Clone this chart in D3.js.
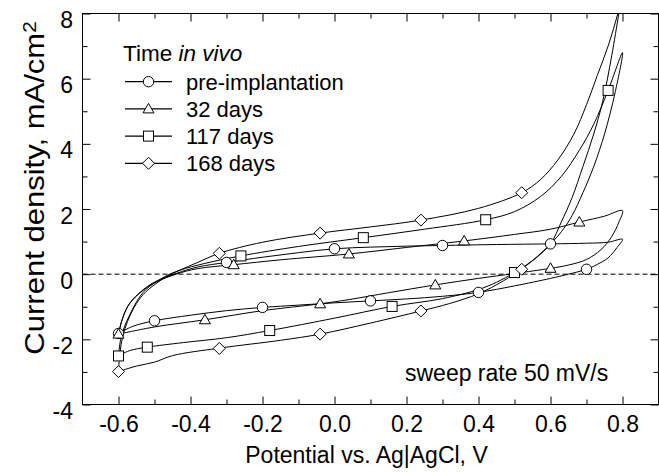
<!DOCTYPE html>
<html>
<head>
<meta charset="utf-8">
<script src="https://cdn.jsdelivr.net/npm/d3@7"></script>
<style>
  body { margin: 0; background: #fff; }
  svg { display: block; font-family: Arial, "Liberation Sans", sans-serif; }
</style>
</head>
<body>
<svg width="659" height="472"></svg>
<script>
// Cyclic voltammograms, [potential V, current density mA/cm2]
// upper = anodic sweep (-0.6 -> 0.8), lower = return sweep (0.8 -> -0.6)
const preUpper = [[-0.6,-1.82],[-0.59,-1.4],[-0.575,-1.0],[-0.553,-0.69],[-0.506,-0.28],[-0.44,0.02],[-0.38,0.22],[-0.3,0.36],[-0.2,0.52],[-0.1,0.66],[0.0,0.78],[0.1,0.83],[0.2,0.86],[0.3,0.88],[0.45,0.91],[0.6,0.93],[0.7,0.95],[0.76,0.98],[0.8,1.07]];
const preLower = [[0.8,1.07],[0.785,0.82],[0.76,0.5],[0.73,0.3],[0.7,0.15],[0.65,0.0],[0.6,-0.13],[0.5,-0.36],[0.4,-0.56],[0.3,-0.68],[0.2,-0.76],[0.1,-0.82],[0.0,-0.88],[-0.1,-0.95],[-0.2,-1.02],[-0.3,-1.12],[-0.4,-1.26],[-0.5,-1.43],[-0.56,-1.6],[-0.6,-1.82]];
const preMarks = [[-0.6,-1.82],[-0.5,-1.43],[-0.3,0.36],[-0.2,-1.02],[0.0,0.78],[0.1,-0.82],[0.3,0.88],[0.4,-0.56],[0.6,0.93],[0.7,0.15]];

const d32Upper = [[-0.6,-1.84],[-0.59,-1.4],[-0.575,-1.0],[-0.553,-0.7],[-0.506,-0.3],[-0.44,0.0],[-0.38,0.17],[-0.28,0.29],[-0.15,0.44],[0.04,0.62],[0.2,0.82],[0.36,1.02],[0.5,1.22],[0.6,1.38],[0.68,1.6],[0.75,1.78],[0.8,1.95]];
const d32Lower = [[0.8,1.95],[0.79,1.6],[0.77,1.15],[0.74,0.75],[0.7,0.45],[0.65,0.28],[0.6,0.18],[0.5,0.02],[0.4,-0.13],[0.28,-0.33],[0.15,-0.57],[0.04,-0.78],[-0.04,-0.91],[-0.2,-1.12],[-0.36,-1.4],[-0.5,-1.62],[-0.6,-1.84]];
const d32Marks = [[-0.6,-1.84],[-0.36,-1.4],[-0.28,0.29],[-0.04,-0.91],[0.04,0.62],[0.28,-0.33],[0.36,1.02],[0.6,0.18],[0.68,1.6]];

const d117Upper = [[-0.6,-2.51],[-0.594,-2.0],[-0.583,-1.6],[-0.571,-1.3],[-0.55,-0.85],[-0.525,-0.48],[-0.47,-0.07],[-0.43,0.12],[-0.36,0.33],[-0.26,0.56],[-0.1,0.85],[0.08,1.12],[0.25,1.38],[0.42,1.67],[0.5,1.92],[0.572,2.38],[0.63,3.0],[0.68,3.8],[0.72,4.6],[0.76,5.64],[0.8,6.8]];
const d117Lower = [[0.8,6.8],[0.78,5.6],[0.75,4.3],[0.72,3.3],[0.69,2.5],[0.66,1.8],[0.63,1.3],[0.6,0.93],[0.55,0.42],[0.5,0.05],[0.45,-0.25],[0.4,-0.47],[0.3,-0.75],[0.16,-0.99],[0.0,-1.35],[-0.18,-1.73],[-0.3,-1.95],[-0.42,-2.1],[-0.52,-2.24],[-0.57,-2.35],[-0.6,-2.51]];
const d117Marks = [[-0.6,-2.51],[-0.52,-2.24],[-0.26,0.56],[-0.18,-1.73],[0.08,1.12],[0.16,-0.99],[0.42,1.67],[0.5,0.05],[0.76,5.64]];

const d168Upper = [[-0.6,-2.99],[-0.596,-2.4],[-0.588,-1.9],[-0.575,-1.45],[-0.55,-0.9],[-0.525,-0.55],[-0.47,-0.1],[-0.43,0.12],[-0.38,0.36],[-0.32,0.64],[-0.2,0.98],[-0.04,1.26],[0.1,1.45],[0.24,1.66],[0.4,2.02],[0.52,2.5],[0.572,2.9],[0.62,3.5],[0.665,4.3],[0.7,5.2],[0.73,6.1],[0.76,7.0],[0.787,8.0],[0.8,8.6]];
const d168Lower = [[0.8,8.6],[0.79,8.0],[0.77,6.7],[0.745,5.3],[0.72,4.3],[0.69,3.3],[0.66,2.35],[0.63,1.6],[0.6,0.93],[0.56,0.5],[0.518,0.15],[0.47,-0.2],[0.4,-0.6],[0.32,-0.9],[0.24,-1.13],[0.1,-1.5],[-0.04,-1.84],[-0.15,-2.03],[-0.32,-2.27],[-0.45,-2.5],[-0.5,-2.7],[-0.55,-2.82],[-0.6,-2.99]];
const d168Marks = [[-0.6,-2.99],[-0.32,-2.28],[-0.32,0.64],[-0.04,-1.84],[-0.04,1.26],[0.24,-1.13],[0.24,1.66],[0.52,0.15],[0.52,2.5]];

const seriesNames = ["pre-implantation", "32 days", "117 days", "168 days"];
const seriesSymbols = ["circle", "triangle", "square", "diamond"];

const xMajor = [-0.6, -0.4, -0.2, 0.0, 0.2, 0.4, 0.6, 0.8];
const xMinor = [-0.5, -0.3, -0.1, 0.1, 0.3, 0.5, 0.7];
const yMajor = [-4, -2, 0, 2, 4, 6, 8];
const yMinor = [-3, -1, 1, 3, 5, 7];

const series = [
  { upper: preUpper, lower: preLower, marks: preMarks },
  { upper: d32Upper, lower: d32Lower, marks: d32Marks },
  { upper: d117Upper, lower: d117Lower, marks: d117Marks },
  { upper: d168Upper, lower: d168Lower, marks: d168Marks }
];

const svg = d3.select("svg");
const pLeft = 82.5, pRight = 658.5, pTop = 13.5, pBottom = 404.5;

const x = d3.scaleLinear().domain([-0.7, 0.9]).range([pLeft, pRight]);
const y = d3.scaleLinear().domain([-4, 8]).range([pBottom, pTop]);

svg.append("defs").append("clipPath").attr("id", "plotclip")
  .append("rect")
  .attr("x", pLeft).attr("y", pTop)
  .attr("width", pRight - pLeft).attr("height", pBottom - pTop);

// zero line
svg.append("line")
  .attr("x1", pLeft).attr("x2", pRight)
  .attr("y1", y(0)).attr("y2", y(0))
  .attr("stroke", "#000").attr("stroke-width", 1)
  .attr("stroke-dasharray", "5,3");

// symbol drawing
function drawSymbol(g, kind, cx, cy) {
  const s = g.append("g").attr("transform", `translate(${cx},${cy})`);
  if (kind === "circle") {
    s.append("circle").attr("r", 5.2);
  } else if (kind === "square") {
    s.append("rect").attr("x", -5).attr("y", -5).attr("width", 10).attr("height", 10);
  } else if (kind === "triangle") {
    s.append("path").attr("d", "M0,-5.5L5.5,4L-5.5,4Z");
  } else {
    s.append("path").attr("d", "M0,-6L6,0L0,6L-6,0Z");
  }
  s.selectAll("*").attr("fill", "#fff").attr("stroke", "#000").attr("stroke-width", 1);
}

const line = d3.line()
  .x(d => x(d[0]))
  .y(d => y(d[1]))
  .curve(d3.curveCatmullRom.alpha(0.5));

const plot = svg.append("g").attr("clip-path", "url(#plotclip)");

series.forEach((s, i) => {
  plot.append("path")
    .datum(s.upper.concat(s.lower.slice(1)))
    .attr("fill", "none")
    .attr("stroke", "#000")
    .attr("stroke-width", 1)
    .attr("d", line);
});

series.forEach((s, i) => {
  s.marks.forEach(m => drawSymbol(plot, seriesSymbols[i], x(m[0]), y(m[1])));
});

// axes
const fmtX = d => d.toFixed(1);
const fmtY = d => String(d);

svg.append("g")
  .attr("transform", `translate(0,${pBottom})`)
  .call(d3.axisBottom(x).tickValues(xMajor).tickFormat(fmtX).tickSizeInner(-8).tickSizeOuter(0).tickPadding(11));
svg.append("g")
  .attr("transform", `translate(0,${pBottom})`)
  .call(d3.axisBottom(x).tickValues(xMinor).tickFormat("").tickSizeInner(-5).tickSizeOuter(0));
svg.append("g")
  .attr("transform", `translate(0,${pTop})`)
  .call(d3.axisTop(x).tickValues(xMajor).tickFormat("").tickSizeInner(-8).tickSizeOuter(0));
svg.append("g")
  .attr("transform", `translate(0,${pTop})`)
  .call(d3.axisTop(x).tickValues(xMinor).tickFormat("").tickSizeInner(-5).tickSizeOuter(0));

const yAxis = svg.append("g")
  .attr("transform", `translate(${pLeft},0)`)
  .call(d3.axisLeft(y).tickValues(yMajor).tickFormat(fmtY).tickSizeInner(-8).tickSizeOuter(0).tickPadding(9.5));
svg.append("g")
  .attr("transform", `translate(${pLeft},0)`)
  .call(d3.axisLeft(y).tickValues(yMinor).tickFormat("").tickSizeInner(-5).tickSizeOuter(0));
svg.append("g")
  .attr("transform", `translate(${pRight},0)`)
  .call(d3.axisRight(y).tickValues(yMajor).tickFormat("").tickSizeInner(-8).tickSizeOuter(0));
svg.append("g")
  .attr("transform", `translate(${pRight},0)`)
  .call(d3.axisRight(y).tickValues(yMinor).tickFormat("").tickSizeInner(-5).tickSizeOuter(0));

svg.selectAll(".domain").remove();
svg.selectAll(".tick line").attr("stroke", "#000");
svg.selectAll(".tick text")
  .attr("fill", "#000")
  .style("font-family", "Arial, 'Liberation Sans', sans-serif")
  .style("font-size", "23px");
yAxis.selectAll(".tick text").attr("dy", "0.61em");

// frame
svg.append("rect")
  .attr("x", pLeft).attr("y", pTop)
  .attr("width", pRight - pLeft).attr("height", pBottom - pTop)
  .attr("fill", "none").attr("stroke", "#000").attr("stroke-width", 1);

// axis titles
svg.append("text")
  .attr("x", (pLeft + pRight) / 2 - 4).attr("y", 463)
  .attr("text-anchor", "middle")
  .style("font-size", "23px")
  .text("Potential vs. Ag|AgCl, V");

// y title is drawn a little taller along its length, as in the reference
const yTitle = svg.append("text")
  .attr("transform", "translate(44,188) scale(1,1.15) rotate(-90)")
  .attr("text-anchor", "middle")
  .style("font-size", "27px");
yTitle.append("tspan").text("Current density, mA/cm");
yTitle.append("tspan").attr("dy", "-0.45em").style("font-size", "18px").text("2");

// annotation
svg.append("text")
  .attr("x", 405).attr("y", 381)
  .style("font-size", "23px")
  .text("sweep rate 50 mV/s");

// legend
const legend = svg.append("g");
const lt = legend.append("text").attr("x", 123).attr("y", 61).style("font-size", "22.5px");
lt.append("tspan").text("Time ");
lt.append("tspan").style("font-style", "italic").text("in vivo");

seriesNames.forEach((name, i) => {
  const cy = 81.7 + i * 27.2;
  legend.append("line")
    .attr("x1", 125).attr("x2", 172)
    .attr("y1", cy).attr("y2", cy)
    .attr("stroke", "#000").attr("stroke-width", 1.3);
  drawSymbol(legend, seriesSymbols[i], 148.5, cy);
  legend.append("text")
    .attr("x", 186).attr("y", cy + 7.8)
    .style("font-size", "22px")
    .text(name);
});
</script>
</body>
</html>
